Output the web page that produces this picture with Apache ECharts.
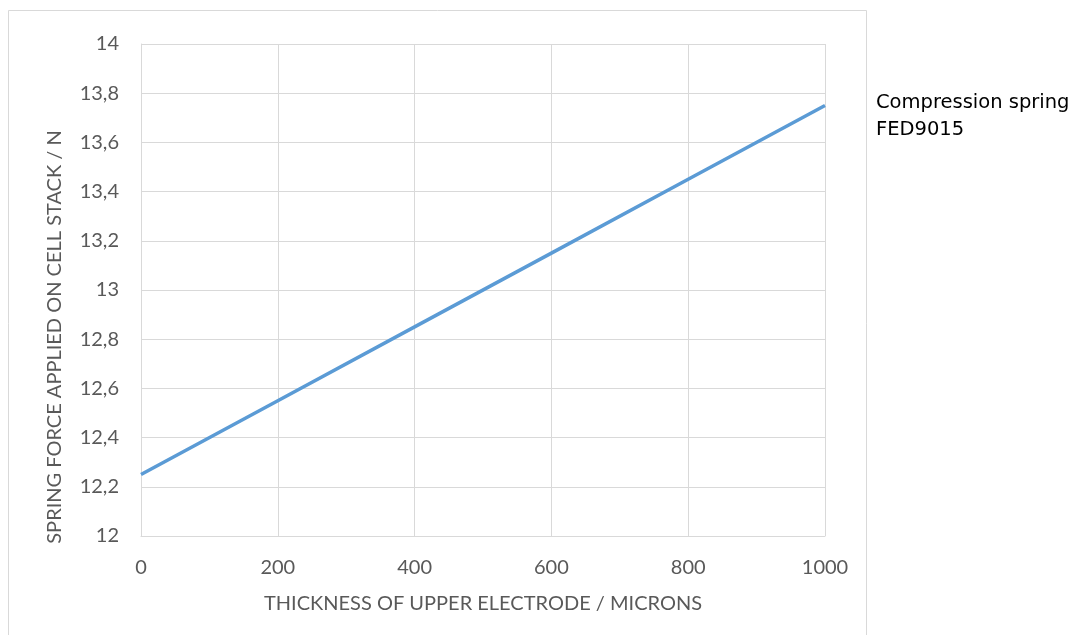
<!DOCTYPE html>
<html>
<head>
<meta charset="utf-8">
<style>
html,body{margin:0;padding:0;background:#fff;}
#chart{width:1080px;height:635px;}
</style>
<script src="https://cdn.jsdelivr.net/npm/echarts@6/dist/echarts.min.js"></script>
</head>
<body>
<div id="chart"></div>
<script>
var seriesName = 'Compression spring\nFED9015';
var thickness = [0, 200, 400, 600, 800, 1000];
var springForce = [12.25, 12.55, 12.85, 13.15, 13.45, 13.75];
var xAxisTitle = 'THICKNESS OF UPPER ELECTRODE / MICRONS';
var yAxisTitle = 'SPRING FORCE APPLIED ON CELL STACK / N';

var chart = echarts.init(document.getElementById('chart'));
var labelFont = {fontFamily: 'Lato', fontSize: 20, color: '#595959'};
chart.setOption({
  animation: false,
  backgroundColor: '#fff',
  graphic: [{
    type: 'rect',
    shape: {x: 8.5, y: 10.5, width: 858, height: 640},
    style: {fill: 'none', stroke: '#d9d9d9', lineWidth: 1},
    silent: true
  }],
  grid: {left: 141, top: 44, right: 255, bottom: 99, containLabel: false},
  legend: {
    left: 871, top: 89, orient: 'vertical', padding: 0,
    itemWidth: 0, itemHeight: 0, itemGap: 0,
    icon: 'none',
    textStyle: {fontFamily: 'DejaVu Sans', fontSize: 19.5, color: '#000', lineHeight: 27},
    data: [{name: seriesName, icon: 'none'}]
  },
  xAxis: {
    type: 'value', min: 0, max: 1000, interval: 200,
    name: xAxisTitle, nameLocation: 'middle', nameGap: 58,
    nameTextStyle: labelFont,
    axisLine: {show: true, lineStyle: {color: '#d9d9d9'}},
    axisTick: {show: false},
    axisLabel: Object.assign({margin: 22, formatter: function(v){ return String(v); }}, labelFont),
    splitLine: {show: true, lineStyle: {color: '#d9d9d9', width: 1}}
  },
  yAxis: {
    type: 'value', min: 12, max: 14, interval: 0.2,
    name: yAxisTitle, nameLocation: 'middle', nameGap: 76,
    nameTextStyle: Object.assign({padding: [0, 94, 0, 0]}, labelFont),
    axisLine: {show: true, lineStyle: {color: '#d9d9d9'}},
    axisTick: {show: false},
    axisLabel: Object.assign({margin: 22, formatter: function(v){ return String(Math.round(v*10)/10).replace('.', ','); }}, labelFont),
    splitLine: {show: true, lineStyle: {color: '#d9d9d9', width: 1}}
  },
  series: [{
    name: seriesName,
    type: 'line',
    data: thickness.map(function(x, i){ return [x, springForce[i]]; }),
    showSymbol: false,
    symbol: 'none',
    lineStyle: {color: '#5B9BD5', width: 3.5},
    itemStyle: {color: '#5B9BD5'}
  }]
});
</script>
</body>
</html>
